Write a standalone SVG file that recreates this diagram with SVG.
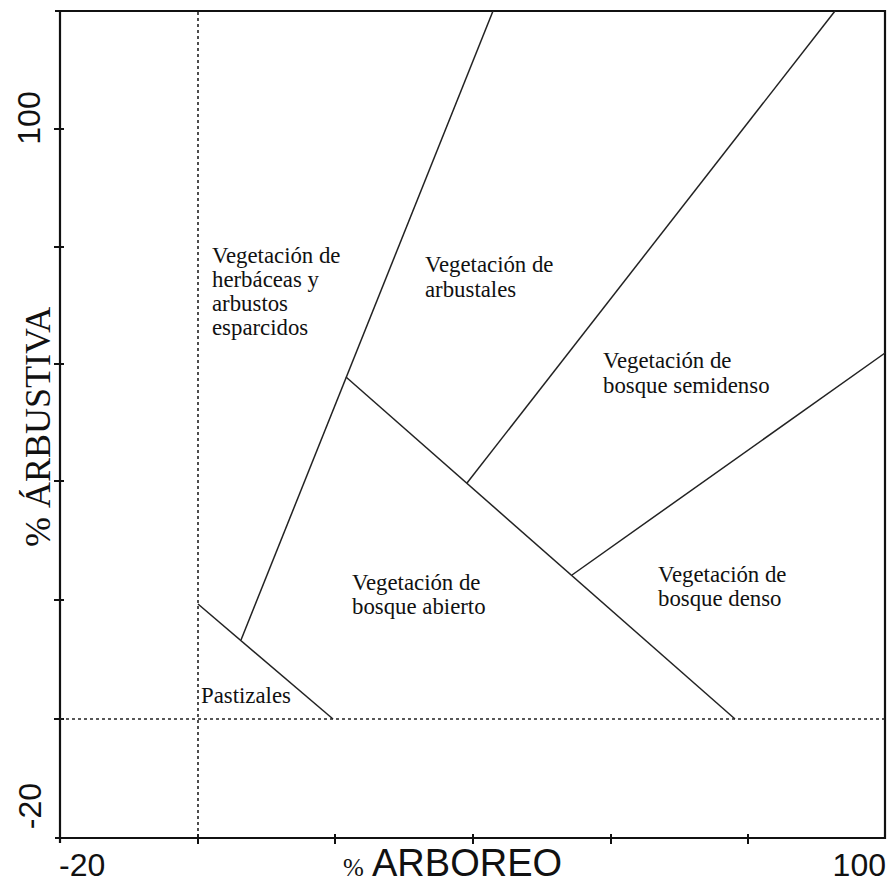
<svg xmlns="http://www.w3.org/2000/svg" width="887" height="884" viewBox="0 0 887 884">
<style>
.frame{stroke:#111;stroke-width:2.2;fill:none}
.tick{stroke:#111;stroke-width:2}
.dot{stroke:#222;stroke-width:1.6;stroke-dasharray:3 3;fill:none}
.bd{stroke:#222;stroke-width:1.5;fill:none}
.lbl{font-family:"Liberation Serif","Times New Roman",serif;font-size:22.8px;fill:#111}
.num{font-family:"Liberation Sans",Arial,sans-serif;font-size:32px;fill:#111}
</style>
<rect width="887" height="884" fill="#fff"/>
<g id="axes">
<line class="frame" x1="55" y1="11" x2="886" y2="11"/>
<line class="frame" x1="60" y1="10" x2="60" y2="843"/>
<line class="frame" x1="55" y1="838" x2="886" y2="838"/>
<line class="frame" x1="885" y1="10" x2="885" y2="839"/>
<line class="tick" x1="54" y1="129" x2="64" y2="129"/>
<line class="tick" x1="54" y1="247" x2="64" y2="247"/>
<line class="tick" x1="54" y1="364" x2="64" y2="364"/>
<line class="tick" x1="54" y1="481" x2="64" y2="481"/>
<line class="tick" x1="54" y1="600" x2="64" y2="600"/>
<line class="tick" x1="54" y1="719" x2="64" y2="719"/>
<line class="tick" x1="198" y1="834" x2="198" y2="844"/>
<line class="tick" x1="335" y1="834" x2="335" y2="844"/>
<line class="tick" x1="473" y1="834" x2="473" y2="844"/>
<line class="tick" x1="611" y1="834" x2="611" y2="844"/>
<line class="tick" x1="748" y1="834" x2="748" y2="844"/>
</g>
<g id="connectors">
<line class="dot" x1="198" y1="12" x2="198" y2="838"/>
<line class="dot" x1="60" y1="719" x2="885" y2="719"/>
<line class="bd" x1="241" y1="640" x2="493" y2="11"/>
<line class="bd" x1="198" y1="604" x2="333" y2="719"/>
<line class="bd" x1="346" y1="377" x2="735" y2="719"/>
<line class="bd" x1="467" y1="483" x2="835" y2="11"/>
<line class="bd" x1="572" y1="575" x2="885" y2="353"/>
</g>
<g id="axis-labels">
<text class="num" transform="translate(40,118) rotate(-90)" text-anchor="middle">100</text>
<text class="num" transform="translate(41,806) rotate(-90)" text-anchor="middle">-20</text>
<text class="num" x="59" y="876" font-size="33">-20</text>
<text class="num" x="886" y="876" text-anchor="end" font-size="33">100</text>
<text transform="translate(50,547) rotate(-90)" font-family="'Liberation Serif','Times New Roman',serif" font-size="36" fill="#111">% ÁRBUSTIVA</text>
<text x="343" y="876" font-family="'Liberation Serif','Times New Roman',serif" font-size="25" fill="#111">%</text>
<text x="372" y="876" font-family="'Liberation Sans',Arial,sans-serif" font-size="38" fill="#111">ARBOREO</text>
</g>
<g id="node-herbaceas">
<text class="lbl" x="212" y="263">Vegetación de</text>
<text class="lbl" x="212" y="287">herbáceas y</text>
<text class="lbl" x="212" y="311">arbustos</text>
<text class="lbl" x="212" y="335">esparcidos</text>
</g>
<g id="node-arbustales">
<text class="lbl" x="425" y="272">Vegetación de</text>
<text class="lbl" x="425" y="297">arbustales</text>
</g>
<g id="node-semidenso">
<text class="lbl" x="603" y="368">Vegetación de</text>
<text class="lbl" x="603" y="393">bosque semidenso</text>
</g>
<g id="node-abierto">
<text class="lbl" x="352" y="590">Vegetación de</text>
<text class="lbl" x="352" y="614">bosque abierto</text>
</g>
<g id="node-denso">
<text class="lbl" x="658" y="582">Vegetación de</text>
<text class="lbl" x="658" y="606">bosque denso</text>
</g>
<g id="node-pastizales">
<text class="lbl" x="201" y="703" font-size="20">Pastizales</text>
</g>
</svg>
